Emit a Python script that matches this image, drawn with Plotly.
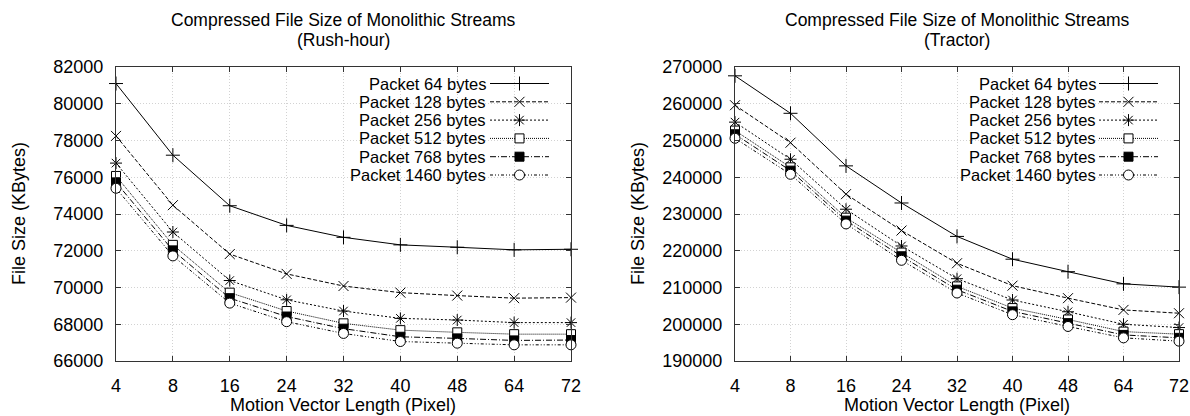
import plotly.graph_objects as go

# Motion vector lengths (pixels), shown as evenly spaced categories
mv_lengths = ["4", "8", "16", "24", "32", "40", "48", "64", "72"]

packet_labels = ["Packet 64 bytes", "Packet 128 bytes", "Packet 256 bytes",
                 "Packet 512 bytes", "Packet 768 bytes", "Packet 1460 bytes"]

# Compressed file size (KBytes), Rush-hour sequence
rush_64 = [81100, 77200, 74450, 73380, 72730, 72320, 72190, 72050, 72080]
rush_128 = [78250, 74480, 71820, 70740, 70080, 69720, 69560, 69420, 69450]
rush_256 = [76770, 73020, 70380, 69330, 68720, 68320, 68230, 68090, 68090]
rush_512 = [76070, 72320, 69720, 68720, 68050, 67680, 67560, 67460, 67460]
rush_768 = [75720, 72020, 69420, 68420, 67760, 67320, 67230, 67120, 67140]
rush_1460 = [75400, 71720, 69150, 68140, 67500, 67060, 66970, 66880, 66880]

# Compressed file size (KBytes), Tractor sequence
tractor_64 = [267600, 257400, 243100, 233000, 223900, 217700, 214300, 211000, 210100]
tractor_128 = [259600, 249400, 235400, 225500, 216600, 210500, 207100, 203900, 203000]
tractor_256 = [255000, 244900, 231300, 221300, 212400, 206600, 203400, 200000, 199100]
tractor_512 = [252700, 242700, 229000, 219500, 210300, 204400, 201300, 198000, 197300]
tractor_768 = [251700, 241800, 228200, 218500, 209400, 203500, 200300, 197100, 196300]
tractor_1460 = [250600, 240800, 227300, 217400, 208500, 202600, 199400, 196300, 195400]

rush_series = [rush_64, rush_128, rush_256, rush_512, rush_768, rush_1460]
tractor_series = [tractor_64, tractor_128, tractor_256, tractor_512, tractor_768, tractor_1460]

W, H = 1190, 416
FONT = "Liberation Sans"
FS = 18          # tick labels and axis titles
FS_TITLE = 17.5  # two-line panel titles
FS_KEY = 16.5    # key labels
INK = "black"
FRAME = "#333333"

# gnuplot-like line and point styles per packet size
styles = [
    dict(dash="solid", marker=dict(symbol="cross-thin", size=10, color=INK, line=dict(width=1, color=INK))),
    dict(dash="4px,2px", marker=dict(symbol="x-thin", size=10, color=INK, line=dict(width=1, color=INK))),
    dict(dash="2px,2px", marker=dict(symbol="asterisk", size=10, color=INK, line=dict(width=1, color=INK))),
    dict(dash="1px,1px", marker=dict(symbol="square", size=9, color="white", line=dict(width=1, color=INK))),
    dict(dash="6px,2px,1px,2px", marker=dict(symbol="square", size=9, color=INK, line=dict(width=1, color=INK))),
    dict(dash="3px,2px,1px,2px,1px,2px", marker=dict(symbol="circle", size=10, color="white", line=dict(width=1, color=INK))),
]

# plot areas in pixels (left, right, top, bottom)
panels = [
    dict(x0=116, x1=571, y0=67, y1=361, series=rush_series, yr=[66000, 82000], dt=2000,
         title="(Rush-hour)", key_text_x=487, key_x0=490, key_x1=549),
    dict(x0=735, x1=1179, y0=67, y1=361, series=tractor_series, yr=[190000, 270000], dt=10000,
         title="(Tractor)", key_text_x=1097, key_x0=1099, key_x1=1158),
]
KEY_Y0, KEY_DY = 83.5, 18.3

fig = go.Figure()
annotations = []

for p_i, p in enumerate(panels):
    xa = "x" if p_i == 0 else "x2"
    ya = "y" if p_i == 0 else "y2"
    for s_i, vals in enumerate(p["series"]):
        st = styles[s_i]
        fig.add_trace(go.Scatter(
            x=mv_lengths, y=vals, mode="lines+markers", name=packet_labels[s_i],
            line=dict(color=INK, width=1, dash=st["dash"]), marker=st["marker"],
            xaxis=xa, yaxis=ya, showlegend=False, cliponaxis=False))

    axis_common = dict(
        showline=True, linecolor=FRAME, linewidth=1, mirror="ticks",
        ticks="inside", ticklen=5, tickcolor=FRAME, tickwidth=1,
        showgrid=True, gridcolor="#d2d2d2", griddash="1px,2px", gridwidth=1,
        zeroline=False, tickfont=dict(family=FONT, size=FS, color=INK),
        fixedrange=True, automargin=False,
    )
    xkey = "xaxis" if p_i == 0 else "xaxis2"
    ykey = "yaxis" if p_i == 0 else "yaxis2"
    fig.update_layout({
        xkey: dict(axis_common, type="category", range=[0, len(mv_lengths) - 1],
                   domain=[p["x0"] / W, p["x1"] / W], anchor=ya, ticklabelstandoff=8),
        ykey: dict(axis_common, range=p["yr"], dtick=p["dt"], tickformat="d",
                   domain=[1 - p["y1"] / H, 1 - p["y0"] / H], anchor=xa, ticklabelstandoff=8),
    })

    cx = (p["x0"] + p["x1"]) / 2
    cy = (p["y0"] + p["y1"]) / 2
    txt = dict(family=FONT, size=FS, color=INK)
    ttl = dict(family=FONT, size=FS_TITLE, color=INK)
    key = dict(family=FONT, size=FS_KEY, color=INK)
    annotations += [
        dict(text="Compressed File Size of Monolithic Streams", x=cx / W, y=1 - 19.5 / H,
             xref="paper", yref="paper", showarrow=False, font=ttl, xanchor="center", yanchor="middle",
             borderpad=0),
        dict(text=p["title"], x=cx / W, y=1 - 39.5 / H,
             xref="paper", yref="paper", showarrow=False, font=ttl, xanchor="center", yanchor="middle",
             borderpad=0),
        dict(text="Motion Vector Length (Pixel)", x=cx / W, y=1 - 405 / H,
             xref="paper", yref="paper", showarrow=False, font=txt, xanchor="center", yanchor="middle"),
        dict(text="File Size (KBytes)", x=(p["x0"] - 97) / W, y=1 - cy / H, textangle=-90,
             xref="paper", yref="paper", showarrow=False, font=txt, xanchor="center", yanchor="middle"),
    ]

    # key: label text right-aligned, line sample with point to its right
    for s_i, lab in enumerate(packet_labels):
        ky = KEY_Y0 + s_i * KEY_DY
        st = styles[s_i]
        annotations.append(dict(text=lab, x=p["key_text_x"], y=ky, xref="x3", yref="y3",
                                showarrow=False, font=key, xanchor="right", yanchor="middle",
                                borderpad=0))
        fig.add_trace(go.Scatter(
            x=[p["key_x0"], p["key_x1"]], y=[ky, ky], mode="lines",
            line=dict(color=INK, width=1, dash=st["dash"]),
            xaxis="x3", yaxis="y3", showlegend=False, hoverinfo="skip"))
        fig.add_trace(go.Scatter(
            x=[(p["key_x0"] + p["key_x1"]) / 2], y=[ky], mode="markers", marker=st["marker"],
            xaxis="x3", yaxis="y3", showlegend=False, hoverinfo="skip"))

fig.update_layout(
    template="none",
    width=W, height=H, margin=dict(l=0, r=0, t=0, b=0, pad=0),
    paper_bgcolor="white", plot_bgcolor="rgba(0,0,0,0)",
    xaxis3=dict(domain=[0, 1], range=[0, W], visible=False, anchor="y3",
                fixedrange=True, automargin=False),
    yaxis3=dict(domain=[0, 1], range=[H, 0], visible=False, anchor="x3",
                fixedrange=True, automargin=False),
    annotations=annotations,
    showlegend=False,
)

fig.write_html("out.html")
